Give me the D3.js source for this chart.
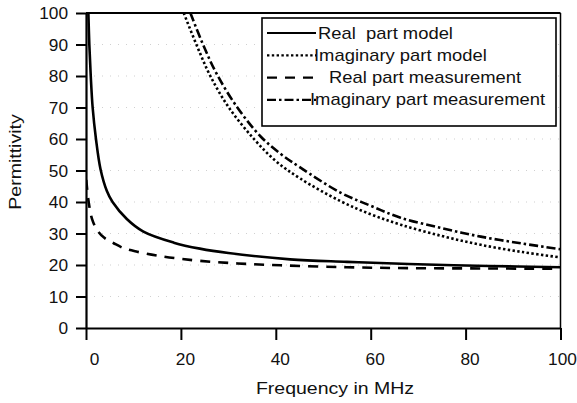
<!DOCTYPE html>
<html>
<head>
<meta charset="utf-8">
<script src="https://cdn.jsdelivr.net/npm/d3@7"></script>
<style>
  html, body { margin: 0; padding: 0; background: #fff; }
  svg text { font-family: "Liberation Sans", Arial, sans-serif; fill: #111; }
</style>
</head>
<body>
<div id="chart"></div>
<script>
// values
const xTicks = [0, 20, 40, 60, 80, 100];
const yTicks = [0, 10, 20, 30, 40, 50, 60, 70, 80, 90, 100];

const freqRealModel = [0.5, 0.7, 1.0, 1.4, 2.1, 3.05, 4.4, 5.6, 8.6, 12.1, 18.5, 24, 30, 43, 55, 68, 85, 100];
const realModel = [100, 90, 80, 70, 60, 50.5, 43.5, 40, 34.6, 30.6, 27.1, 25.2, 23.8, 21.8, 21, 20.3, 19.7, 19.3];

const freqImagModel = [20.6, 23.4, 26.2, 30.1, 35.4, 40, 45.2, 53.6, 60, 66.3, 75, 83.2, 92, 100];
const imagModel = [100, 89.5, 80, 70, 60, 53, 47.4, 40.3, 36.1, 32.8, 29.2, 26.4, 24.1, 22.4];

const freqRealMeas = [0.05, 0.6, 1.3, 2.35, 3.8, 5.85, 8, 10.8, 15, 19.2, 24.1, 32, 41, 55, 68, 85, 100];
const realMeas = [47, 39.6, 34.5, 31.1, 28.7, 26.9, 25.3, 24.2, 23, 22.1, 21.3, 20.5, 19.9, 19.3, 19.0, 18.9, 18.8];

const freqImagMeas = [22, 24.8, 27.6, 31.9, 36.8, 41, 45.2, 53.6, 60, 66.3, 75, 83.2, 92, 100];
const imagMeas = [100, 89.5, 80.5, 70, 60.8, 55.3, 50.9, 43, 38.8, 35, 31.7, 29, 26.8, 25];

const seriesNames = ['Real  part model', 'Imaginary part model', 'Real part measurement', 'Imaginary part measurement'];

const width = 577;
const height = 403;
const plot = { left: 86, right: 560.5, top: 13, bottom: 328 };
const textStretch = 1.22; // the scanned lettering is wider than Arial
const legendStretch = 1.15;
const tickStretch = 1.08;

const svg = d3.select('#chart').append('svg')
    .attr('width', width)
    .attr('height', height);

const x = d3.scaleLinear().domain([0, 100]).range([plot.left, plot.right]);
const y = d3.scaleLinear().domain([0, 100]).range([plot.bottom, plot.top]);

// faint dotted grid of the original
svg.append('g')
    .selectAll('line')
    .data(yTicks.slice(1, -1))
    .enter()
    .append('line')
    .attr('x1', plot.left)
    .attr('x2', plot.right)
    .attr('y1', d => y(d))
    .attr('y2', d => y(d))
    .attr('stroke', '#999')
    .attr('stroke-width', 1)
    .attr('stroke-dasharray', '1,7')
    .attr('opacity', 0.45);

// frame top and right
svg.append('line')
    .attr('x1', plot.left).attr('x2', plot.right)
    .attr('y1', plot.top).attr('y2', plot.top)
    .attr('stroke', '#000').attr('stroke-width', 2);
svg.append('line')
    .attr('x1', plot.right).attr('x2', plot.right)
    .attr('y1', plot.top).attr('y2', plot.bottom)
    .attr('stroke', '#000').attr('stroke-width', 1.5);

const xAxis = svg.append('g')
    .attr('transform', `translate(0,${plot.bottom})`)
    .call(d3.axisBottom(x).tickValues(xTicks).tickSize(12).tickSizeOuter(0));
xAxis.selectAll('text')
    .attr('y', 0)
    .attr('dy', 0)
    .attr('transform', d => `translate(${d === 0 ? 8 : d === 100 ? 1.5 : 4},37) scale(${tickStretch},1)`)
    .style('font-size', '16px');

const yAxis = svg.append('g')
    .attr('transform', `translate(${plot.left},0)`)
    .call(d3.axisLeft(y).tickValues(yTicks).tickSize(10).tickSizeOuter(0));
yAxis.selectAll('text')
    .attr('x', 0)
    .attr('dy', '0.36em')
    .attr('transform', `translate(-18,0) scale(${tickStretch},1)`)
    .style('font-size', '16px');

svg.selectAll('.domain').attr('stroke-width', 2.2);
svg.selectAll('.tick line').attr('stroke-width', 2);

svg.append('text')
    .attr('text-anchor', 'middle')
    .attr('transform', `translate(335,394) scale(${textStretch},1)`)
    .style('font-size', '16px')
    .text('Frequency in MHz');

svg.append('text')
    .attr('text-anchor', 'middle')
    .attr('transform', `translate(21,162) rotate(-90) scale(${textStretch},1)`)
    .style('font-size', '16px')
    .text('Permittivity');

const series = [
    { name: seriesNames[0], f: freqRealModel, v: realModel, dash: null, tx: 318 },
    { name: seriesNames[1], f: freqImagModel, v: imagModel, dash: '2.4,2.4', tx: 314 },
    { name: seriesNames[2], f: freqRealMeas, v: realMeas, dash: '10,8', tx: 329 },
    { name: seriesNames[3], f: freqImagMeas, v: imagMeas, dash: '9,3,2.5,3', tx: 310 }
];

svg.append('clipPath').attr('id', 'clip')
    .append('rect')
    .attr('x', plot.left).attr('y', plot.top - 2)
    .attr('width', plot.right - plot.left).attr('height', plot.bottom - plot.top + 2);

const line = d3.line()
    .x(d => x(d[0]))
    .y(d => y(d[1]))
    .curve(d3.curveCatmullRom.alpha(0.5));

svg.append('g')
    .attr('clip-path', 'url(#clip)')
    .selectAll('path')
    .data(series)
    .enter()
    .append('path')
    .attr('d', s => line(s.f.map((f, i) => [f, s.v[i]])))
    .attr('fill', 'none')
    .attr('stroke', '#000')
    .attr('stroke-width', 2.6)
    .attr('stroke-dasharray', s => s.dash);

// legend
const legend = svg.append('g');
legend.append('rect')
    .attr('x', 262).attr('y', 18)
    .attr('width', 294).attr('height', 108)
    .attr('fill', '#fff')
    .attr('stroke', '#000')
    .attr('stroke-width', 1.6);

const rows = legend.selectAll('g.row')
    .data(series)
    .enter()
    .append('g')
    .attr('class', 'row')
    .attr('transform', (d, i) => `translate(0,${33 + i * 22.3})`);

rows.append('line')
    .attr('x1', 267).attr('x2', 316)
    .attr('y1', 0).attr('y2', 0)
    .attr('stroke', '#000')
    .attr('stroke-width', 2.2)
    .attr('stroke-dasharray', d => d.dash);

rows.append('text')
    .attr('transform', d => `translate(${d.tx},5.5) scale(${legendStretch},1)`)
    .style('font-size', '16px')
    .style('white-space', 'pre')
    .text(d => d.name);
</script>
</body>
</html>
